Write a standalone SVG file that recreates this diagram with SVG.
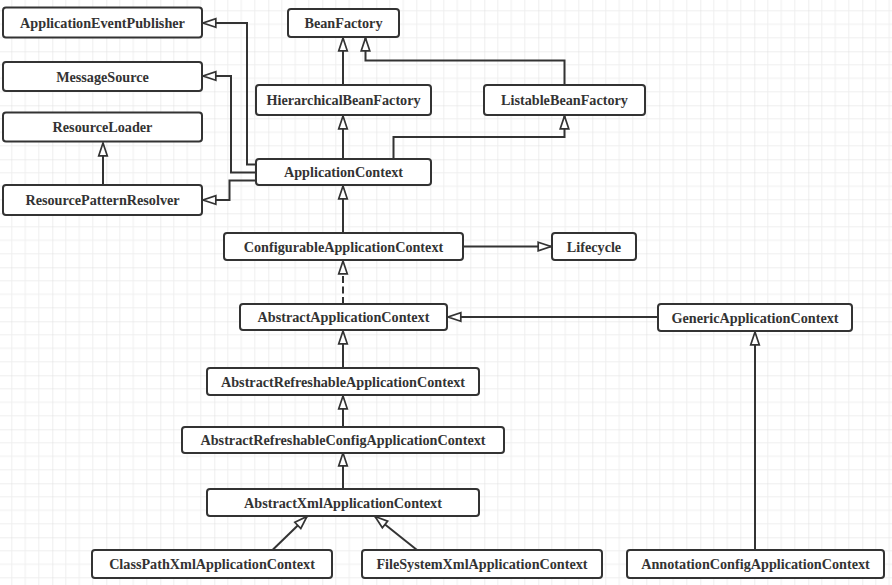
<svg xmlns="http://www.w3.org/2000/svg" width="892" height="585" viewBox="0 0 892 585">
<style>
.n rect{fill:#fff;stroke:#333;stroke-width:2}
.n text{font-family:"Liberation Serif","Times New Roman",serif;font-weight:bold;font-size:14.2px;fill:#333;text-anchor:middle}
.c path{fill:none;stroke:#333;stroke-width:2;marker-end:url(#tri)}
.c .d{stroke-dasharray:7 3.5}
</style>
<defs>
<pattern id="grid" width="54" height="54" x="-1.7" y="-2.7" patternUnits="userSpaceOnUse">
<path d="M13.5,0V54M27,0V54M40.5,0V54M0,13.5H54M0,27H54M0,40.5H54" stroke="#efefef" stroke-width="1" fill="none"/>
<path d="M0,0V54M0,0H54" stroke="#dedede" stroke-width="1" fill="none"/>
</pattern>
<marker id="tri" markerUnits="userSpaceOnUse" markerWidth="16" markerHeight="14" viewBox="-1 -1 15 12" refX="12.5" refY="4.5" orient="auto">
<path d="M0.5,0.5L12.5,4.5L0.5,8.5z" fill="#fff" stroke="#333" stroke-width="1.6"/>
</marker>
</defs>
<rect width="892" height="585" fill="#fff"/>
<rect width="892" height="585" fill="url(#grid)"/>

<g class="c" id="connectors">
<path d="M103,185V143"/>
<path d="M256,164.5H247V23H203"/>
<path d="M256,172.5H231V76H203"/>
<path d="M256,180.5H229.5V200H203"/>
<path d="M343,85V38"/>
<path d="M564.5,85V60.5H365.5V38"/>
<path d="M343,159V116"/>
<path d="M393.5,159V137H564.5V116"/>
<path d="M343,233V186"/>
<path d="M463,246.5H551"/>
<path class="d" d="M343,304V261"/>
<path d="M658,317H448"/>
<path d="M343,368V331"/>
<path d="M343,427V396"/>
<path d="M343,489V453"/>
<path d="M272.5,550L307,516.5"/>
<path d="M417,550L375,516.5"/>
<path d="M755,550V332"/>
</g>

<g class="n" id="ApplicationEventPublisher"><rect x="3" y="7.5" width="199" height="30" rx="3"/><text x="102.5" y="27.5">ApplicationEventPublisher</text></g>
<g class="n" id="MessageSource"><rect x="3" y="62" width="199" height="29" rx="3"/><text x="102.5" y="81.5">MessageSource</text></g>
<g class="n" id="ResourceLoader"><rect x="3" y="112.5" width="199" height="29" rx="3"/><text x="102.5" y="132">ResourceLoader</text></g>
<g class="n" id="ResourcePatternResolver"><rect x="3" y="185" width="199" height="30" rx="3"/><text x="102.5" y="205">ResourcePatternResolver</text></g>
<g class="n" id="BeanFactory"><rect x="288" y="9" width="111" height="28" rx="3"/><text x="343.5" y="28">BeanFactory</text></g>
<g class="n" id="HierarchicalBeanFactory"><rect x="256" y="85" width="175" height="30" rx="3"/><text x="343.5" y="105">HierarchicalBeanFactory</text></g>
<g class="n" id="ListableBeanFactory"><rect x="484" y="85" width="161" height="30" rx="3"/><text x="564.5" y="105">ListableBeanFactory</text></g>
<g class="n" id="ApplicationContext"><rect x="256" y="159" width="175" height="26" rx="3"/><text x="343.5" y="177">ApplicationContext</text></g>
<g class="n" id="ConfigurableApplicationContext"><rect x="224" y="233" width="239" height="27" rx="3"/><text x="343.5" y="251.5">ConfigurableApplicationContext</text></g>
<g class="n" id="Lifecycle"><rect x="552" y="233" width="84" height="27" rx="3"/><text x="594" y="251.5">Lifecycle</text></g>
<g class="n" id="AbstractApplicationContext"><rect x="240" y="304" width="207" height="26" rx="3"/><text x="343.5" y="322">AbstractApplicationContext</text></g>
<g class="n" id="GenericApplicationContext"><rect x="658" y="304" width="194" height="27" rx="3"/><text x="755" y="322.5">GenericApplicationContext</text></g>
<g class="n" id="AbstractRefreshableApplicationContext"><rect x="207" y="368" width="272" height="27" rx="3"/><text x="343" y="386.5">AbstractRefreshableApplicationContext</text></g>
<g class="n" id="AbstractRefreshableConfigApplicationContext"><rect x="182" y="427" width="322" height="26" rx="3"/><text x="343" y="445">AbstractRefreshableConfigApplicationContext</text></g>
<g class="n" id="AbstractXmlApplicationContext"><rect x="207" y="489" width="272" height="27" rx="3"/><text x="343" y="507.5">AbstractXmlApplicationContext</text></g>
<g class="n" id="ClassPathXmlApplicationContext"><rect x="92" y="550" width="240" height="28" rx="3"/><text x="212" y="569">ClassPathXmlApplicationContext</text></g>
<g class="n" id="FileSystemXmlApplicationContext"><rect x="362" y="550" width="240" height="28" rx="3"/><text x="482" y="569">FileSystemXmlApplicationContext</text></g>
<g class="n" id="AnnotationConfigApplicationContext"><rect x="627" y="550" width="257" height="28" rx="3"/><text x="755.5" y="569">AnnotationConfigApplicationContext</text></g>
</svg>
